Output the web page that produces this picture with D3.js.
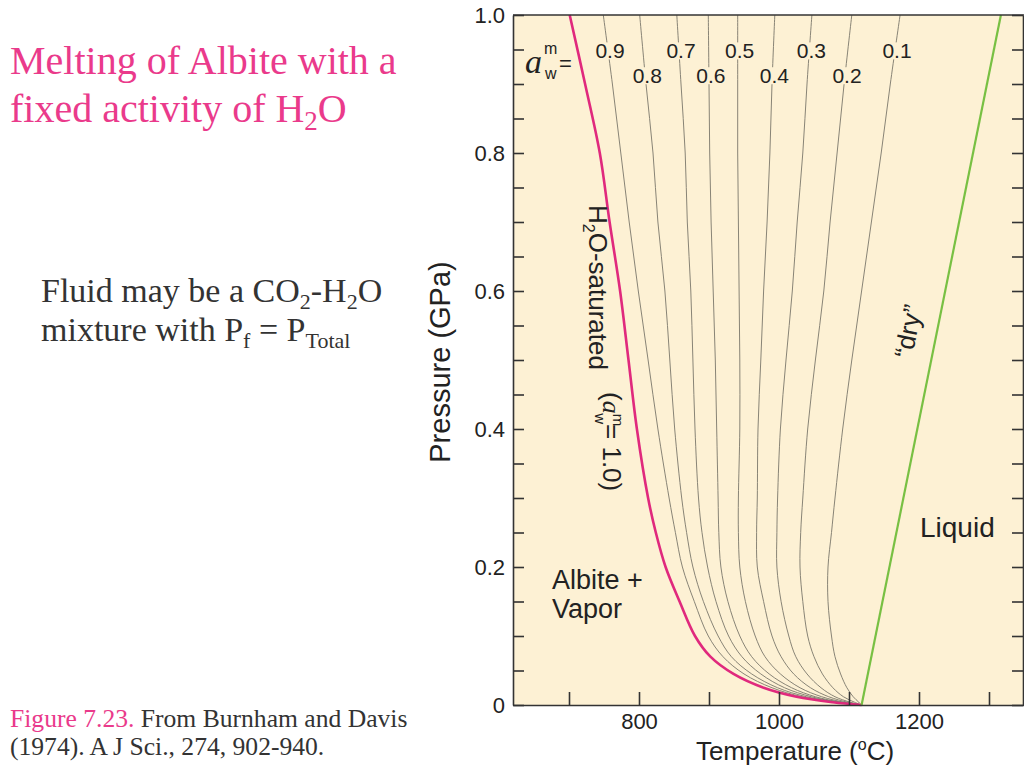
<!DOCTYPE html>
<html><head><meta charset="utf-8">
<script src="https://cdn.jsdelivr.net/npm/d3@7"></script>
<style>body{margin:0;background:#fff;} svg{display:block;}</style>
</head><body>
<svg id="c" width="1024" height="768"></svg>
<script>
// ---- data (T in °C at each pressure level, P in GPa) ----
const pressureLevels = [1.0, 0.9, 0.8, 0.7, 0.6, 0.5, 0.4, 0.3, 0.25, 0.2, 0.15, 0.1, 0.07, 0.045, 0.025, 0.012, 0.004, 0];
const tAw10 = [701, 723, 744, 758, 773, 785, 797, 813, 824, 838, 858, 880, 902, 935, 978, 1025, 1077, 1118];
const tAw09 = [749, 762, 774, 786, 799, 813, 827, 843, 852, 862, 879, 899, 920, 950, 990, 1033, 1081, 1118];
const tAw08 = [801, 810, 820, 827, 837, 844, 851, 861, 868, 877, 892, 913, 932, 961, 998, 1039, 1083, 1118];
const tAw07 = [854, 860, 866, 869, 874, 877, 880, 885, 890, 898, 910, 928, 947, 974, 1008, 1046, 1086, 1118];
const tAw06 = [899, 900, 901, 903, 906, 909, 911, 913, 914, 917, 927, 944, 961, 986, 1018, 1052, 1089, 1118];
const tAw05 = [941, 941, 941, 942, 943, 944, 944, 942, 942, 944, 952, 966, 980, 1002, 1030, 1061, 1093, 1118];
const tAw04 = [994, 990, 987, 983, 978, 974, 970, 969, 968, 969, 978, 990, 1003, 1021, 1045, 1071, 1098, 1118];
const tAw03 = [1047, 1040, 1034, 1026, 1019, 1010, 1002, 998, 997, 997, 1003, 1014, 1024, 1040, 1060, 1080, 1102, 1118];
const tAw02 = [1104, 1093, 1083, 1073, 1064, 1052, 1041, 1034, 1031, 1030, 1034, 1041, 1050, 1062, 1077, 1092, 1108, 1118];
const tAw01 = [1173, 1159, 1146, 1132, 1118, 1104, 1091, 1080, 1075, 1070, 1070, 1075, 1080, 1088, 1097, 1106, 1114, 1118];
const thinCurves = [tAw09, tAw08, tAw07, tAw06, tAw05, tAw04, tAw03, tAw02, tAw01];
const thinLabels = ["0.9", "0.8", "0.7", "0.6", "0.5", "0.4", "0.3", "0.2", "0.1"];
const dryT = [1118, 1317];
const dryP = [0, 1.0];
const xTickValues = [700, 800, 900, 1000, 1100, 1200, 1300];
const xTickLabels = ["", "800", "", "1000", "", "1200", ""];
const yTickValues = [0, 0.05, 0.1, 0.15, 0.2, 0.25, 0.3, 0.35, 0.4, 0.45, 0.5, 0.55, 0.6, 0.65, 0.7, 0.75, 0.8, 0.85, 0.9, 0.95, 1.0];
const yTickLabels = ["0", "", "", "", "0.2", "", "", "", "0.4", "", "", "", "0.6", "", "", "", "0.8", "", "", "", "1.0"];

// ---- layout ----
const svg = d3.select("#c");
const L = 513, R = 1023, T = 15, B = 705;
const x = d3.scaleLinear().domain([620, 1350]).range([L, 1024]);
const y = d3.scaleLinear().domain([0, 1]).range([B, T]);
const SANS = "'Liberation Sans', Arial, Helvetica, sans-serif";
const SERIF = "'Liberation Serif', 'Times New Roman', serif";
const PINK = "#ea3a8b";
const BG = "#fdf1d4";
const INK = "#222";

// left-side slide text
const title = svg.append("text").attr("font-family", SERIF).attr("font-size", 40).attr("fill", PINK);
title.append("tspan").attr("x", 10).attr("y", 74).text("Melting of Albite with a");
title.append("tspan").attr("x", 10).attr("y", 122).text("fixed activity of H");
title.append("tspan").attr("font-size", 27).attr("dy", 8).text("2");
title.append("tspan").attr("dy", -8).text("O");

const fl = svg.append("text").attr("font-family", SERIF).attr("font-size", 34).attr("fill", "#333");
fl.append("tspan").attr("x", 41).attr("y", 302).text("Fluid may be a CO");
fl.append("tspan").attr("font-size", 22).attr("dy", 7).text("2");
fl.append("tspan").attr("dy", -7).text("-H");
fl.append("tspan").attr("font-size", 22).attr("dy", 7).text("2");
fl.append("tspan").attr("dy", -7).text("O");
const fl2 = svg.append("text").attr("font-family", SERIF).attr("font-size", 34).attr("fill", "#333");
fl2.append("tspan").attr("x", 41).attr("y", 341).text("mixture with P");
fl2.append("tspan").attr("font-size", 22).attr("dy", 7).text("f");
fl2.append("tspan").attr("dy", -7).text(" = P");
fl2.append("tspan").attr("font-size", 22).attr("dy", 7).text("Total");

const cap = svg.append("text").attr("font-family", SERIF).attr("font-size", 25.6).attr("fill", "#333");
cap.append("tspan").attr("x", 10).attr("y", 727).attr("fill", PINK).text("Figure 7.23.");
cap.append("tspan").text(" From Burnham and Davis");
svg.append("text").attr("font-family", SERIF).attr("font-size", 25.6).attr("fill", "#333")
  .attr("x", 10).attr("y", 755).text("(1974). A J Sci., 274, 902-940.");

// plot background
svg.append("rect").attr("x", L).attr("y", T).attr("width", 1024 - L).attr("height", B - T).attr("fill", BG);

// curves
const line = d3.line().x(d => x(d[0])).y(d => y(d[1])).curve(d3.curveCatmullRom.alpha(0.5));
const g = svg.append("g");
thinCurves.forEach(arr => {
  g.append("path").datum(arr.map((t, i) => [t, pressureLevels[i]]))
    .attr("d", line).attr("fill", "none").attr("stroke", "#7a776b").attr("stroke-width", 0.9);
});
g.append("path").datum(tAw10.map((t, i) => [t, pressureLevels[i]]))
  .attr("d", line).attr("fill", "none").attr("stroke", "#e0297d").attr("stroke-width", 2.6);
g.append("path").datum(dryT.map((t, i) => [t, dryP[i]]))
  .attr("d", d3.line().x(d => x(d[0])).y(d => y(d[1])))
  .attr("fill", "none").attr("stroke", "#78c043").attr("stroke-width", 2.2);

// axes
const axStyle = sel => {
  sel.selectAll("path,line").attr("stroke", "#333").attr("stroke-width", 1.6);
  sel.selectAll("text").attr("font-family", SANS).attr("fill", INK);
};
svg.append("g").attr("transform", `translate(${L},0)`)
  .call(d3.axisLeft(y).tickValues(yTickValues).tickSizeInner(-11).tickSizeOuter(0).tickPadding(8)
    .tickFormat((d, i) => yTickLabels[i]))
  .call(axStyle).call(s => s.selectAll("text").attr("font-size", 22));
svg.append("g").attr("transform", `translate(${R},0)`)
  .call(d3.axisRight(y).tickValues(yTickValues).tickSizeInner(-11).tickSizeOuter(0).tickFormat(""))
  .call(axStyle);
svg.append("g").attr("transform", `translate(0,${B})`)
  .call(d3.axisBottom(x).tickValues(xTickValues).tickSizeInner(-13).tickSizeOuter(0).tickPadding(8)
    .tickFormat((d, i) => xTickLabels[i]))
  .call(axStyle).call(s => s.selectAll("text").attr("font-size", 22));
svg.append("line").attr("x1", L).attr("x2", 1024).attr("y1", T).attr("y2", T).attr("stroke", "#333").attr("stroke-width", 1.6);

// axis titles
const xt = svg.append("text").attr("font-family", SANS).attr("font-size", 26).attr("fill", INK)
  .attr("text-anchor", "middle").attr("x", 795).attr("y", 760);
xt.append("tspan").text("Temperature (");
xt.append("tspan").attr("font-size", 16).attr("dy", -10).text("o");
xt.append("tspan").attr("dy", 10).text("C)");
svg.append("text").attr("font-family", SANS).attr("font-size", 29).attr("fill", INK)
  .attr("text-anchor", "middle").attr("transform", "translate(450,362) rotate(-90)").text("Pressure (GPa)");

// curve labels with masking boxes
function interpT(arr, p) {
  for (let i = 0; i < pressureLevels.length - 1; i++) {
    const p0 = pressureLevels[i], p1 = pressureLevels[i + 1];
    if (p <= p0 && p >= p1) return arr[i] + (arr[i + 1] - arr[i]) * (p0 - p) / (p0 - p1);
  }
  return arr[0];
}
thinCurves.forEach((arr, i) => {
  const row = i % 2 === 0 ? 0.948 : 0.912;
  const cx = x(interpT(arr, row)) + 2;
  const cy = y(row);
  const lab = svg.append("g");
  const tx = lab.append("text").attr("font-family", SANS).attr("font-size", 21).attr("fill", INK)
    .attr("text-anchor", "middle").attr("x", cx).attr("y", cy + 7.5).text(thinLabels[i]);
  const bb = tx.node().getBBox();
  lab.insert("rect", "text").attr("x", bb.x - 1).attr("y", bb.y + 3).attr("width", bb.width + 2)
    .attr("height", bb.height - 6).attr("fill", BG);
});

// a_w^m =
const aw = svg.append("g").attr("fill", INK);
aw.append("text").attr("font-family", SERIF).attr("font-style", "italic").attr("font-size", 34)
  .attr("x", 525).attr("y", 73).text("a");
aw.append("text").attr("font-family", SANS).attr("font-size", 16).attr("x", 544).attr("y", 54).text("m");
aw.append("text").attr("font-family", SANS).attr("font-size", 16).attr("x", 545).attr("y", 79).text("w");
aw.append("text").attr("font-family", SANS).attr("font-size", 22).attr("x", 559).attr("y", 71).text("=");

// region labels
const reg = svg.append("g").attr("font-family", SANS).attr("fill", INK).attr("font-size", 27);
reg.append("text").attr("x", 552).attr("y", 589).text("Albite +");
reg.append("text").attr("x", 552).attr("y", 618).text("Vapor");
reg.append("text").attr("x", 920).attr("y", 537).attr("font-size", 28).text("Liquid");
reg.append("text").attr("text-anchor", "middle").attr("font-size", 26).attr("transform", "translate(917,333) rotate(-78.5)")
  .text("\u201Cdry\u201D");

// H2O-saturated label (rotated)
const hs = svg.append("text").attr("font-family", SANS).attr("font-size", 26).attr("fill", INK)
  .attr("transform", "translate(589,205) rotate(90)");
hs.append("tspan").text("H");
hs.append("tspan").attr("font-size", 16).attr("dy", 6).text("2");
hs.append("tspan").attr("dy", -6).text("O-saturated");
const hs2 = svg.append("text").attr("font-family", SANS).attr("font-size", 26).attr("fill", INK)
  .attr("transform", "translate(603,392) rotate(90)");
hs2.append("tspan").text("(");
hs2.append("tspan").attr("font-family", SERIF).attr("font-style", "italic").text("a");
hs2.append("tspan").attr("font-size", 15).attr("dy", -10).text("m");
hs2.append("tspan").attr("font-size", 15).attr("dx", -13).attr("dy", 18).text("w");
hs2.append("tspan").attr("dy", -8).text("= 1.0)");
</script>
</body></html>
